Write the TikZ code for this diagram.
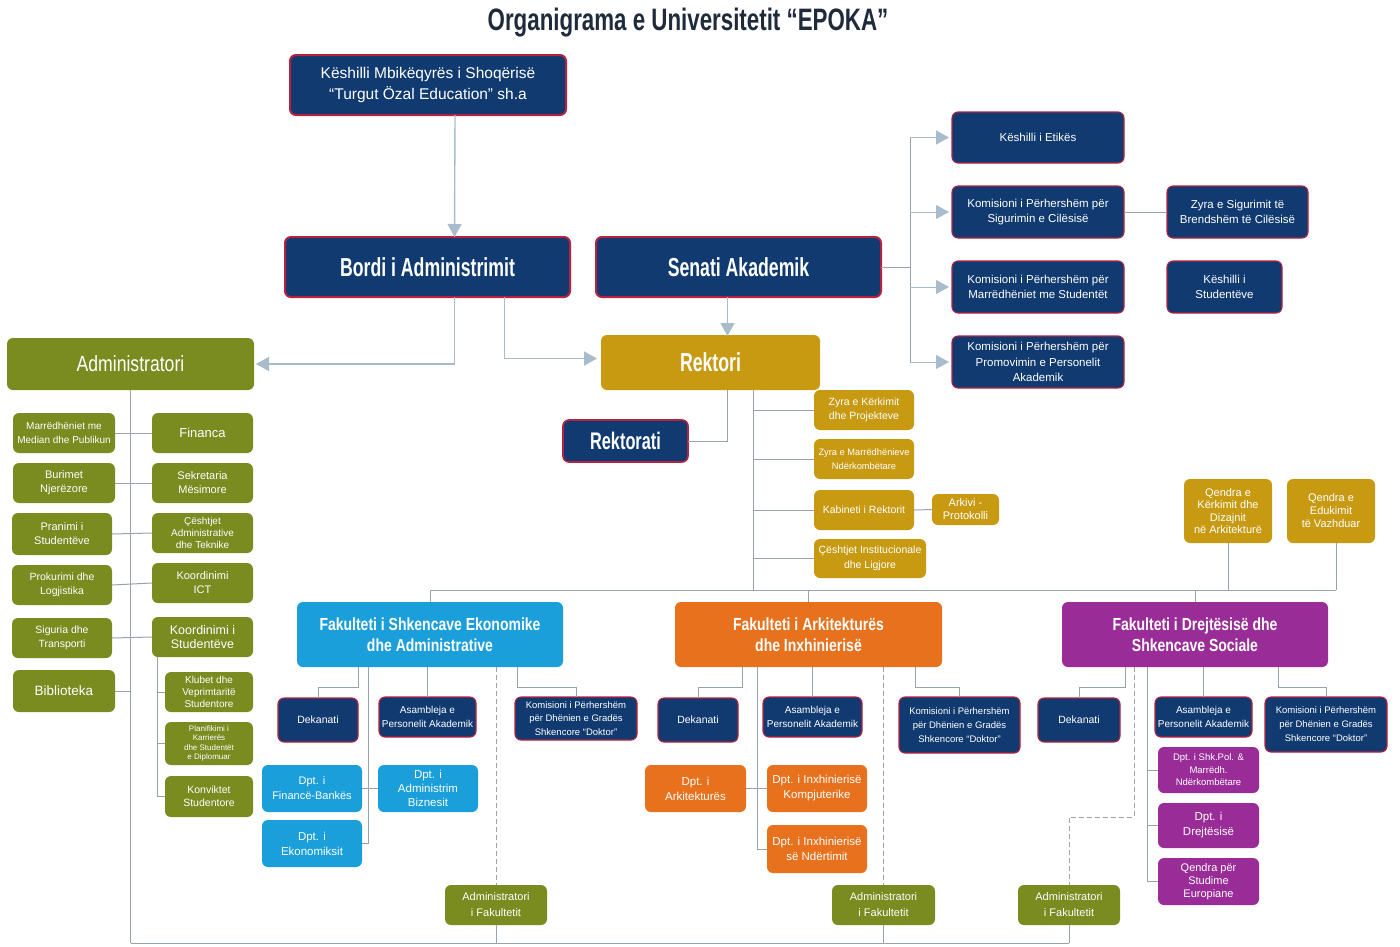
\documentclass[tikz,border=0pt]{standalone}
\usepackage{fontspec}
\setmainfont{Liberation Sans}
\newfontfamily\cnd{Liberation Sans}[FakeStretch=0.8]
\newfontfamily\cndx{Liberation Sans}[FakeStretch=0.68]
\newfontfamily\cndt{Liberation Sans}[FakeStretch=0.72]
\usetikzlibrary{arrows.meta}
\definecolor{navy}{HTML}{113B70}
\definecolor{crim}{HTML}{B4223F}
\definecolor{olive}{HTML}{7A8B20}
\definecolor{gold}{HTML}{C89A12}
\definecolor{lblue}{HTML}{1A9FDB}
\definecolor{orng}{HTML}{E8711D}
\definecolor{purp}{HTML}{9A2C98}
\definecolor{lnc}{HTML}{9AA3AD}
\definecolor{arrc}{HTML}{A9BCCB}
\definecolor{titlec}{HTML}{1F2B3A}
\newcommand\fs[2]{\fontsize{#1}{#2}\selectfont}
\newcommand\mybox[7]{\node[#1, minimum width={(#5-#3)*1pt}, minimum height={(#6-#4)*1pt}] (#2) at ({(#3+#5)/2},{(#4+#6)/2}) {#7};}
\tikzset{
  bxbase/.style={rectangle, rounded corners=6pt, text=white, align=center, inner sep=1pt, outer sep=0pt, font=\fs{10}{11.5}},
  bxnavy/.style={bxbase, fill=navy, draw=crim, line width=1.1pt},
  bxolive/.style={bxbase, fill=olive},
  bxgold/.style={bxbase, fill=gold},
  bxblue/.style={bxbase, fill=lblue},
  bxorange/.style={bxbase, fill=orng},
  bxpurple/.style={bxbase, fill=purp},
  ln/.style={draw=lnc, line width=1pt},
  lnd/.style={draw=lnc, line width=1pt, dash pattern=on 5pt off 3pt},
  arr/.style={draw=arrc, line width=1.4pt, -{Triangle[width=14pt,length=13pt,color=arrc]}}
}
\begin{document}
\begin{tikzpicture}[x=1pt,y=-1pt]
\useasboundingbox[fill=white] (0,0) rectangle (1400,946);
\node[font=\cndt\bfseries\fs{31}{34}, text=titlec] (title) at (688,23) {Organigrama e Universitetit “EPOKA”};
% top
\mybox{bxnavy, line width=2pt, font=\fs{15.5}{21}}{kesh}{290}{55}{566}{115}{Këshilli Mbikëqyrës i Shoqërisë\\“Turgut Özal Education” sh.a}
\mybox{bxnavy, line width=2pt, font=\cndx\bfseries\fs{26}{28}}{bordi}{285}{237}{570}{297}{Bordi i Administrimit}
\mybox{bxnavy, line width=2pt, font=\cndx\bfseries\fs{26}{28}}{senati}{596}{237}{881}{297}{Senati Akademik}
\mybox{bxolive, font=\cnd\fs{22}{24}}{admin}{7}{338}{254}{390}{Administratori}
\mybox{bxgold, font=\cndx\bfseries\fs{26}{28}}{rekt}{601}{335}{820}{390}{Rektori}
\mybox{bxnavy, line width=1.6pt, font=\cndx\bfseries\fs{24}{26}}{rektorati}{563}{420}{688}{462}{Rektorati}
% gold right of trunk
\mybox{bxgold, font=\fs{10.5}{14}}{zk}{814}{390}{914}{430}{Zyra e Kërkimit\\dhe Projekteve}
\mybox{bxgold, font=\fs{9.3}{14}}{zm}{814}{439}{914}{479}{Zyra e Marrëdhënieve\\Ndërkombëtare}
\mybox{bxgold, font=\fs{10.5}{12}}{kr}{814}{490}{914}{530}{Kabineti i Rektorit}
\mybox{bxgold, font=\fs{11}{13}}{ap}{932}{494}{999}{525}{Arkivi -\\Protokolli}
\mybox{bxgold, font=\fs{10.5}{15}}{ci}{814}{539}{926}{578}{Çështjet Institucionale\\dhe Ligjore}
% senati committees
\mybox{bxnavy, font=\fs{11.5}{15.5}}{ke}{952}{112}{1124}{163}{Këshilli i Etikës}
\mybox{bxnavy, font=\fs{11.5}{15.5}}{ks}{952}{186}{1124}{238}{Komisioni i Përhershëm për\\Sigurimin e Cilësisë}
\mybox{bxnavy, font=\fs{11.5}{15.5}}{km}{952}{261}{1124}{313}{Komisioni i Përhershëm për\\Marrëdhëniet me Studentët}
\mybox{bxnavy, font=\fs{11.5}{15.5}}{kp}{952}{336}{1124}{388}{Komisioni i Përhershëm për\\Promovimin e Personelit\\Akademik}
\mybox{bxnavy, font=\fs{11.5}{15.5}}{zs}{1167}{186}{1308}{238}{Zyra e Sigurimit të\\Brendshëm të Cilësisë}
\mybox{bxnavy, font=\fs{11.5}{15.5}}{kst}{1167}{261}{1282}{313}{Këshilli i\\Studentëve}
% qendra
\mybox{bxgold, font=\fs{11}{12.5}}{qk}{1184}{479}{1272}{543}{Qendra e\\Kërkimit dhe\\Dizajnit\\në Arkitekturë}
\mybox{bxgold, font=\fs{11}{13}}{qe}{1287}{479}{1375}{543}{Qendra e\\Edukimit\\të Vazhduar}
% left admin column
\mybox{bxolive, font=\fs{10}{14}}{m1}{13}{413}{115}{453}{Marrëdhëniet me\\Median dhe Publikun}
\mybox{bxolive, font=\fs{13}{15}}{fin}{152}{413}{253}{453}{Financa}
\mybox{bxolive, font=\fs{11}{14}}{bn}{13}{463}{115}{503}{Burimet\\Njerëzore}
\mybox{bxolive, font=\fs{11}{14}}{sm}{152}{463}{253}{503}{Sekretaria\\Mësimore}
\mybox{bxolive, font=\fs{11}{14}}{pr}{12}{513}{112}{555}{Pranimi i\\Studentëve}
\mybox{bxolive, font=\fs{10}{12}}{ca}{152}{513}{253}{553}{Çështjet\\Administrative\\dhe Teknike}
\mybox{bxolive, font=\fs{10.5}{14}}{pl}{12}{565}{112}{605}{Prokurimi dhe\\Logjistika}
\mybox{bxolive, font=\fs{11}{14}}{ict}{152}{563}{253}{603}{Koordinimi\\ICT}
\mybox{bxolive, font=\fs{10.5}{14}}{sg}{12}{618}{112}{658}{Siguria dhe\\Transporti}
\mybox{bxolive, font=\fs{12.5}{14}}{kos}{152}{617}{253}{657}{Koordinimi i\\Studentëve}
\mybox{bxolive, font=\fs{13.5}{15}}{bib}{13}{670}{115}{712}{Biblioteka}
\mybox{bxolive, font=\fs{10}{12}}{kl}{165}{672}{253}{712}{Klubet dhe\\Veprimtaritë\\Studentore}
\mybox{bxolive, font=\fs{8}{9.5}}{pk}{165}{722}{253}{765}{Planifikimi i\\Karrierës\\dhe Studentët\\e Diplomuar}
\mybox{bxolive, font=\fs{10.5}{13}}{kon}{165}{776}{253}{817}{Konviktet\\Studentore}
% FSEA
\mybox{bxblue, font=\cnd\bfseries\fs{17.5}{21}}{fsea}{297}{602}{563}{667}{Fakulteti i Shkencave Ekonomike\\dhe Administrative}
\mybox{bxnavy, font=\fs{10.5}{12}}{d1}{278}{698}{358}{742}{Dekanati}
\mybox{bxnavy, font=\fs{10}{14}}{as1}{379}{697}{476}{737}{Asambleja e\\Personelit Akademik}
\mybox{bxnavy, font=\fs{9.5}{13.5}}{k1}{515}{697}{637}{740}{Komisioni i Përhershëm\\për Dhënien e Gradës\\Shkencore “Doktor”}
\mybox{bxblue, font=\fs{11}{15}}{fb}{262}{765}{362}{812}{Dpt. i\\Financë-Bankës}
\mybox{bxblue, font=\fs{11.5}{14}}{ab}{378}{765}{478}{812}{Dpt. i\\Administrim\\Biznesit}
\mybox{bxblue, font=\fs{11.5}{15}}{ek}{262}{820}{362}{867}{Dpt. i\\Ekonomiksit}
\mybox{bxolive, font=\fs{11}{16}}{af1}{445}{885}{547}{925}{Administratori\\i Fakultetit}
% FAI
\mybox{bxorange, font=\cnd\bfseries\fs{17.5}{21}}{fai}{675}{602}{942}{667}{Fakulteti i Arkitekturës\\dhe Inxhinierisë}
\mybox{bxnavy, font=\fs{10.5}{12}}{d2}{658}{698}{738}{742}{Dekanati}
\mybox{bxnavy, font=\fs{10}{14}}{as2}{763}{697}{862}{737}{Asambleja e\\Personelit Akademik}
\mybox{bxnavy, font=\fs{9.5}{14}}{k2}{899}{697}{1020}{753}{Komisioni i Përhershëm\\për Dhënien e Gradës\\Shkencore “Doktor”}
\mybox{bxorange, font=\fs{11.5}{15}}{ar}{645}{765}{746}{812}{Dpt. i\\Arkitekturës}
\mybox{bxorange, font=\fs{11.5}{15}}{ik}{767}{765}{867}{812}{Dpt. i Inxhinierisë\\Kompjuterike}
\mybox{bxorange, font=\fs{11.5}{15}}{inx}{767}{825}{867}{873}{Dpt. i Inxhinierisë\\së Ndërtimit}
\mybox{bxolive, font=\fs{11}{16}}{af2}{832}{885}{935}{925}{Administratori\\i Fakultetit}
% FDSS
\mybox{bxpurple, font=\cnd\bfseries\fs{17.5}{21}}{fdss}{1062}{602}{1328}{667}{Fakulteti i Drejtësisë dhe\\Shkencave Sociale}
\mybox{bxnavy, font=\fs{10.5}{12}}{d3}{1038}{698}{1120}{742}{Dekanati}
\mybox{bxnavy, font=\fs{10}{14}}{as3}{1155}{697}{1252}{737}{Asambleja e\\Personelit Akademik}
\mybox{bxnavy, font=\fs{9.5}{14}}{k3}{1265}{697}{1387}{752}{Komisioni i Përhershëm\\për Dhënien e Gradës\\Shkencore “Doktor”}
\mybox{bxpurple, font=\fs{9.5}{12.5}}{sp}{1158}{747}{1259}{793}{Dpt. i Shk.Pol. \&\\Marrëdh.\\Ndërkombëtare}
\mybox{bxpurple, font=\fs{11.5}{15}}{dr}{1158}{803}{1259}{848}{Dpt. i\\Drejtësisë}
\mybox{bxpurple, font=\fs{11}{13}}{qs}{1158}{858}{1259}{905}{Qendra për\\Studime\\Europiane}
\mybox{bxolive, font=\fs{11}{16}}{af3}{1018}{885}{1120}{925}{Administratori\\i Fakultetit}
% ---------- coordinates
\coordinate (hub) at (753,590);
\coordinate (sv) at (910,267);
\path (admin.south) ++(0,553) coordinate (abot);
\path ([xshift=5pt]kos.south west) coordinate (kv);
% ---------- top arrows
\draw[arr] ([xshift=27pt]kesh.south) -- ([xshift=27pt]bordi.north);
\draw[arr] ([xshift=27pt]bordi.south) |- ([xshift=2pt]admin.east);
\draw[arr] ([xshift=77pt]bordi.south) |- ([xshift=-4pt,yshift=4pt]rekt.west);
\draw[arr] ([xshift=-11pt]senati.south) -- ([xshift=17pt,yshift=-1pt]rekt.north);
\draw[ln] ([xshift=17pt]rekt.south) |- (rektorati.east);
% senati branches
\draw[ln] (senati.east) -- (sv);
\draw[ln] (ke.west -| sv) -- (kp.west -| sv);
\foreach \n in {ke,ks,km,kp} \draw[arr, line width=1pt] (\n.west -| sv) -- ([xshift=-3pt]\n.west);
\draw[ln] (ks.east) -- (zs.west);
% rektori trunk
\draw[ln] (rekt.south -| hub) -- (hub);
\foreach \n in {zk,zm,kr,ci} \draw[ln] (\n.west -| hub) -- (\n.west);
\draw[ln] (kr.east) -- (ap.west);
% main horizontal
\draw[ln] (fsea.north |- hub) -- ([xshift=5pt]qe.south |- hub);
\draw[ln] (fsea.north) -- (fsea.north |- hub);
\draw[ln] (fai.north) -- (fai.north |- hub);
\draw[ln] (fdss.north) -- (fdss.north |- hub);
\draw[ln] (qk.south) -- (qk.south |- hub);
\draw[ln] ([xshift=5pt]qe.south) -- ([xshift=5pt]qe.south |- hub);
% admin column
\draw[ln] (admin.south) -- (abot);
\draw[ln] (m1.east) -- (fin.west);
\draw[ln] (bn.east) -- (sm.west);
\draw[ln] (pr.east) -- (ca.west);
\draw[ln] (pl.east) -- (ict.west);
\draw[ln] (sg.east) -- (kos.west);
\draw[ln] (bib.east) -- (bib.east -| abot);
\draw[ln] (kv) |- (kon.west);
\draw[ln] (kl.west -| kv) -- (kl.west);
\draw[ln] (pk.west -| kv) -- (pk.west);
\draw[ln] (abot) -- (af3.south |- abot);
% FSEA
\draw[ln] ([xshift=-72pt]fsea.south) -- ++(0,20) -| (d1.north);
\draw[ln] ([xshift=-62pt]fsea.south) |- (ek.east);
\draw[ln] (fb.east) -- (ab.west);
\draw[ln] (as1.north |- fsea.south) -- (as1.north);
\draw[ln] ([xshift=87pt]fsea.south) -- ++(0,20) -| (k1.north);
\draw[lnd] (af1.north |- fsea.south) -- (af1.north);
\draw[ln] (af1.south) -- (af1.south |- abot);
% FAI
\draw[ln] ([xshift=-66.5pt]fai.south) -- ++(0,20) -| (d2.north);
\draw[ln] ([xshift=-51.5pt]fai.south) |- (inx.west);
\draw[ln] (ar.east) -- (ik.west);
\draw[ln] (as2.north |- fai.south) -- (as2.north);
\draw[ln] ([xshift=106.5pt]fai.south) -- ++(0,20) -| (k2.north);
\draw[lnd] (af2.north |- fai.south) -- (af2.north);
\draw[ln] (af2.south) -- (af2.south |- abot);
% FDSS
\draw[ln] ([xshift=-70pt]fdss.south) -- ++(0,20) -| (d3.north);
\draw[lnd] ([xshift=-61pt]fdss.south) -- ++(0,150) -| (af3.north);
\draw[ln] ([xshift=-48pt]fdss.south) coordinate (v3) |- (qs.west);
\draw[ln] (sp.west -| v3) -- (sp.west);
\draw[ln] (dr.west -| v3) -- (dr.west);
\draw[ln] (as3.north |- fdss.south) -- (as3.north);
\draw[ln] ([xshift=83pt]fdss.south) -- ++(0,20) -| (k3.north);
\draw[ln] (af3.south) -- (af3.south |- abot);
\end{tikzpicture}
\end{document}
